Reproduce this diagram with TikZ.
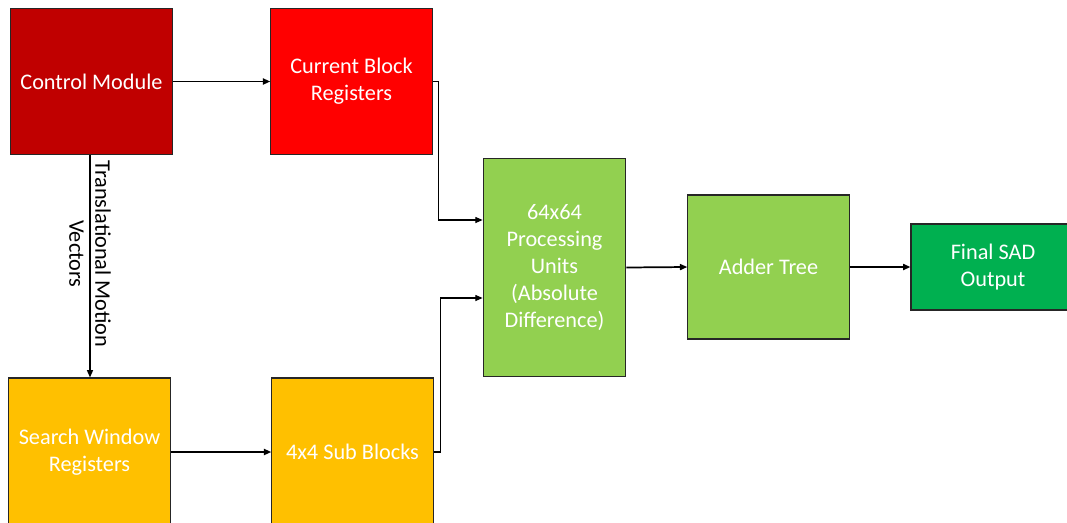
\documentclass[tikz,border=0pt]{standalone}
\usepackage{fontspec}
\setmainfont{Carlito}
\usetikzlibrary{arrows.meta,calc}
\definecolor{ctrlred}{HTML}{C00000}
\definecolor{curred}{HTML}{FF0000}
\definecolor{regamber}{HTML}{FFC000}
\definecolor{lightgreen}{HTML}{92D050}
\definecolor{darkgreen}{HTML}{00B050}
\begin{document}
\begin{tikzpicture}[x=0.75pt,y=-0.75pt,
  blk/.style={draw=black!85, line width=0.8pt, text=white, align=center,
    inner sep=2pt, font=\fontsize{16.7}{20.3}\selectfont},
  conn/.style={line width=1.3pt, -{Triangle[length=5.5pt,width=4.5pt]}},
  wire/.style={line width=1pt}]
\useasboundingbox (0,0) rectangle (1067,522);
\fill[white] (0,0) rectangle (1067,522);

% functional blocks
\node[blk, fill=ctrlred, minimum width=121pt, minimum height=109pt] (ctrl) at (91.5,81.5) {Control Module};
\node[blk, fill=curred, minimum width=121pt, minimum height=109pt] (cur) at (351.5,81.5) {Current Block\\Registers};
\node[blk, fill=regamber, minimum width=121pt, minimum height=111pt] (sw) at (89.5,452) {Search Window\\Registers};
\node[blk, fill=regamber, minimum width=121pt, minimum height=111pt] (sub) at (352.5,452) {4x4 Sub Blocks};
\node[blk, fill=lightgreen, minimum width=107pt, minimum height=164pt] (pu) at (554.5,267.5) {64x64\\Processing\\Units\\(Absolute\\Difference)};
\node[blk, fill=lightgreen, minimum width=121pt, minimum height=108pt] (add) at (768.5,267) {Adder Tree};
\node[blk, fill=darkgreen, minimum width=123pt, minimum height=64.5pt] (fin) at (993,267) {Final SAD\\Output};

% motion vector label on the vertical link
\node[rotate=-90, align=center, inner sep=0pt, font=\fontsize{16.7}{19.5}\selectfont] (lbl) at (90,254) {Translational Motion\\Vectors};

% connectors
\draw[conn] (ctrl.east) -- (cur.west);
\draw[wire, -{Triangle[length=5.5pt,width=4.5pt]}] (ctrl.south -| lbl.center) -- (sw.north -| lbl.center);
\draw[conn] (sw.east) -- (sub.west);
\draw[wire] (cur.east) -- ++(6,0) coordinate (c1);
\draw[wire, -{Triangle[length=5.5pt,width=4.5pt]}] (c1) |- ($(pu.west)+(0,-47.5)$);
\draw[wire] (sub.east) -- ++(7,0) coordinate (s1);
\draw[wire, -{Triangle[length=5.5pt,width=4.5pt]}] (s1) |- ($(pu.west)+(0,30.5)$);
\draw[conn] (pu.east) -- (add.west);
\draw[conn] (add.east) -- (fin.west);
\end{tikzpicture}
\end{document}
